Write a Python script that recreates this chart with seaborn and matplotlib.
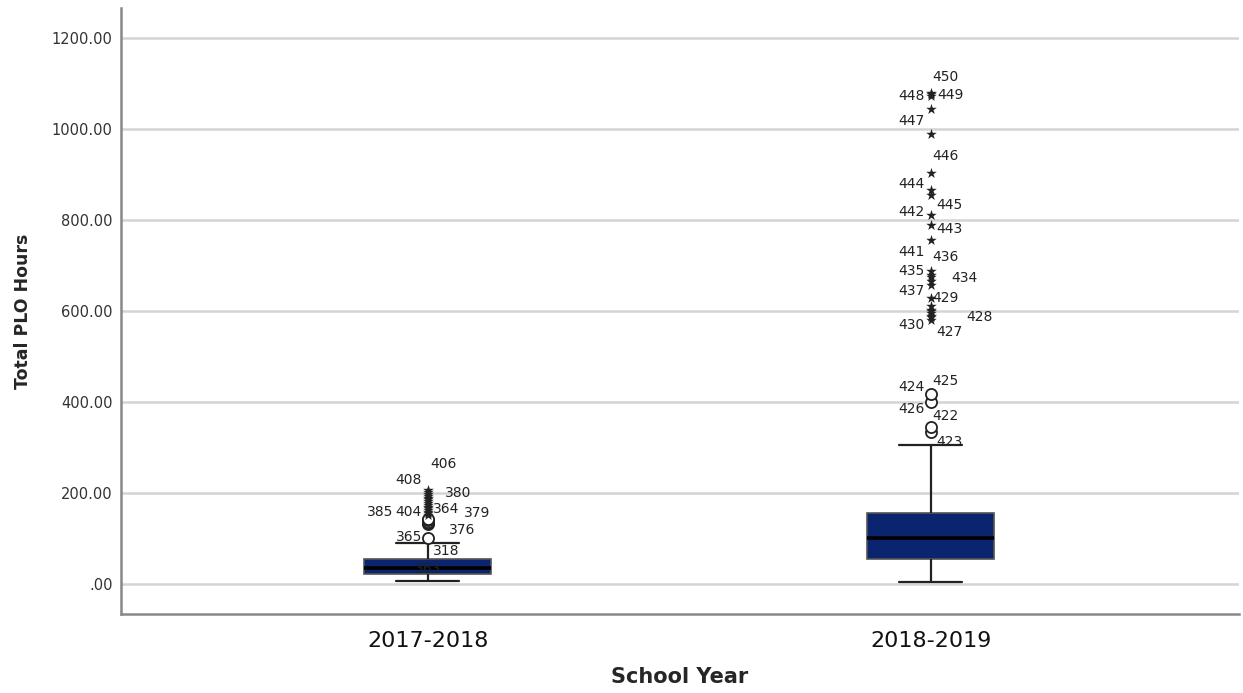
import numpy as np
import pandas as pd
import matplotlib
matplotlib.use("Agg")
import matplotlib.pyplot as plt
import seaborn as sns

# categories
years = ["2017-2018", "2018-2019"]

# box summary per year: lower whisker, Q1, median, Q3, upper whisker
box_1718 = [6.5, 24, 37, 56, 92]
box_1819 = [4.5, 55, 103, 156, 307]

# outliers (circles = mild, stars = extreme)
mild_1718 = [103, 132, 135, 138, 141, 144]
extreme_1718 = [152, 156, 160, 164, 168, 171, 175, 179, 183, 187, 191, 195, 199, 203, 208]
mild_1819 = [336, 345, 402, 418]
extreme_1819 = [582, 587, 591, 596, 600, 604, 611, 629, 659, 668, 675, 681, 688,
                758, 791, 813, 855, 868, 905, 989, 1044, 1073, 1079, 1081]

# case labels shown next to outliers: id, y value of the label text
labels_1718 = ["406", "408", "380", "385", "404", "364", "379", "376", "365", "318", "363"]
label_y_1718 = [264, 229, 202, 160, 160, 165, 158, 119, 105, 73, 35]
labels_1819 = ["450", "448", "449", "447", "446", "444", "445", "442", "443", "441", "436",
               "435", "434", "437", "429", "430", "428", "427", "424", "425", "426", "422", "423"]
label_y_1819 = [1116, 1073, 1075, 1018, 941, 881, 835, 818, 782, 730, 719,
                688, 673, 644, 629, 571, 587, 554, 433, 448, 385, 371, 312]

# horizontal offset of each label from the box centre (pixels)
dx_1718 = [16, -19, 30, -48, -19, 18, 49, 34, -19, 18, 0]
dx_1819 = [15, -19, 20, -19, 15, -19, 19, -19, 19, -19, 15,
           -19, 34, -19, 15, -19, 49, 19, -19, 15, -19, 15, 19]

box_df = pd.DataFrame({
    "School Year": [years[0]] * len(box_1718) + [years[1]] * len(box_1819),
    "hours": box_1718 + box_1819,
})
mild_df = pd.DataFrame({
    "School Year": [years[0]] * len(mild_1718) + [years[1]] * len(mild_1819),
    "hours": mild_1718 + mild_1819,
})
extreme_df = pd.DataFrame({
    "School Year": [years[0]] * len(extreme_1718) + [years[1]] * len(extreme_1819),
    "hours": extreme_1718 + extreme_1819,
})

sns.set_style("white")
plt.rcParams['font.family'] = ['DejaVu Sans']

fig = plt.figure(figsize=(12.43, 6.93), dpi=100)
ax = fig.add_axes([0.0973, 0.114, 0.8995, 0.8745])

navy = "#0b2470"
sns.boxplot(data=box_df, x="School Year", y="hours", order=years, whis=(0, 100),
            width=0.2525, color=navy, fill=True, linecolor="#222222", linewidth=1.6,
            showfliers=False, saturation=1,
            medianprops=dict(color="black", linewidth=2.6),
            boxprops=dict(edgecolor="#555555", linewidth=1.2), ax=ax)

sns.stripplot(data=mild_df, x="School Year", y="hours", order=years, jitter=False,
              color="white", edgecolor="#222222", linewidth=1.3, size=8, marker="o",
              ax=ax, zorder=4)
sns.stripplot(data=extreme_df, x="School Year", y="hours", order=years, jitter=False,
              color="#222222", size=8, marker="*", linewidth=0, ax=ax, zorder=4)

for i, (labs, ys, dxs) in enumerate([(labels_1718, label_y_1718, dx_1718),
                                      (labels_1819, label_y_1819, dx_1819)]):
    for lab, yv, dx in zip(labs, ys, dxs):
        ax.annotate(lab, xy=(i, yv), xytext=(dx, 0), textcoords="offset pixels",
                    ha="center", va="center", fontsize=10, color="#222222", zorder=5)

ax.set_xlim(-0.61, 1.613)
ax.set_ylim(-65, 1267)
ticks = [0, 200, 400, 600, 800, 1000, 1200]
ax.set_yticks(ticks)
ax.set_yticklabels([".00" if t == 0 else f"{t:.2f}" for t in ticks])
ax.yaxis.grid(True, color="#d4d4d4", linewidth=1.8)
ax.set_axisbelow(True)
ax.tick_params(axis="y", length=0, pad=6, labelsize=10.5, labelcolor="#333333")
ax.tick_params(axis="x", length=0, pad=12, labelsize=16, labelcolor="#111111")

for side in ["top", "right"]:
    ax.spines[side].set_visible(False)
for side in ["left", "bottom"]:
    ax.spines[side].set_color("#888888")
    ax.spines[side].set_linewidth(1.8)

ax.set_xlabel("School Year", fontsize=15, fontweight="bold", labelpad=12)
ax.set_ylabel("Total PLO Hours", fontsize=12.5, fontweight="bold", labelpad=14)

fig.savefig("out.png", dpi=100)
